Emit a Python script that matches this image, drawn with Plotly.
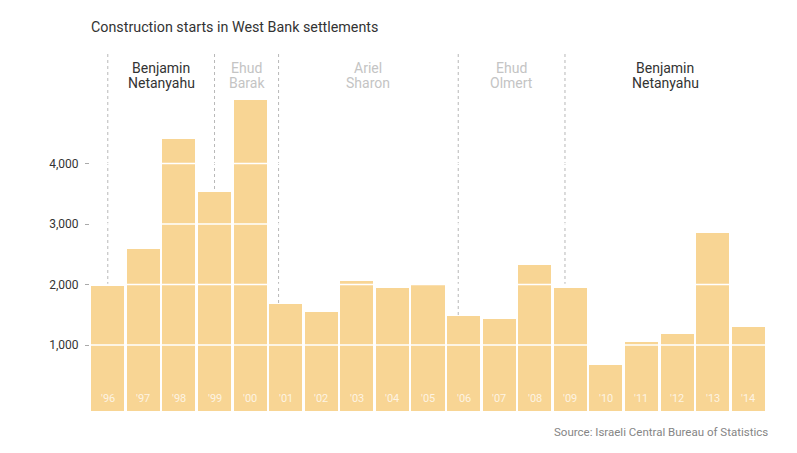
import plotly.graph_objects as go

# ---- data ----
years = list(range(1996, 2015))
year_labels = ["'96", "'97", "'98", "'99", "'00", "'01", "'02", "'03", "'04", "'05",
               "'06", "'07", "'08", "'09", "'10", "'11", "'12", "'13", "'14"]
starts = [1970, 2580, 4410, 3530, 5050, 1670, 1540, 2060, 1940, 2010,
          1480, 1430, 2330, 1950, 670, 1050, 1180, 2850, 1300]

# prime ministers: first name, last name, term start (fractional year), highlighted?
pm_first = ["Benjamin", "Ehud", "Ariel", "Ehud", "Benjamin"]
pm_last = ["Netanyahu", "Barak", "Sharon", "Olmert", "Netanyahu"]
pm_start = [1996.5, 1999.5, 2001.3, 2006.35, 2009.35]
pm_highlight = [True, False, False, False, True]
period_end = 2015

tick_vals = [1000, 2000, 3000, 4000]

# ---- style ----
BAR = "#F8D594"
FONT = "Roboto"
BASE = -91

fig = go.Figure()
fig.add_trace(go.Bar(
    x=[y + 0.5 for y in years],
    y=[v - BASE for v in starts],
    base=BASE,
    width=0.93,
    marker=dict(color=BAR, line=dict(width=0)),
    customdata=starts,
    hovertemplate="%{customdata:,}<extra></extra>",
))

# white gridlines drawn over the bars
for v in tick_vals:
    fig.add_shape(type="line", xref="paper", x0=0, x1=1, yref="y", y0=v, y1=v,
                  line=dict(color="white", width=1.5), layer="above")

# dashed term boundaries + names
ends = pm_start[1:] + [period_end]
for first, last, s, e, hl in zip(pm_first, pm_last, pm_start, ends, pm_highlight):
    fig.add_shape(type="line", xref="x", x0=s, x1=s, yref="paper", y0=0, y1=0.995,
                  line=dict(color="#b8b8b8", width=1, dash="3px,3px"), layer="below")
    col = "#333333" if hl else "#c4c4c4"
    mid = (s + e) / 2
    fig.add_annotation(x=mid, xref="x", y=0.95, yref="paper", text=first,
                       showarrow=False, font=dict(family=FONT, size=14, color=col),
                       yanchor="middle")
    fig.add_annotation(x=mid, xref="x", y=0.908, yref="paper", text=last,
                       showarrow=False, font=dict(family=FONT, size=14, color=col),
                       yanchor="middle")

# year labels inside bars
for yr, lab in zip(years, year_labels):
    fig.add_annotation(x=yr + 0.5, xref="x", y=0, yref="y", text=lab, showarrow=False,
                       yanchor="middle", yshift=7,
                       font=dict(family=FONT, size=11, color="rgba(255,255,255,0.75)"))

fig.add_annotation(text="Construction starts in West Bank settlements", xref="paper", yref="paper",
                   x=0, y=1, xshift=-1, yshift=23, xanchor="left", yanchor="middle", showarrow=False,
                   font=dict(family=FONT, size=14.3, color="#333333"))
fig.add_annotation(text="Source: Israeli Central Bureau of Statistics", xref="paper", yref="paper",
                   x=1, y=0, xshift=4, yshift=-21, xanchor="right", yanchor="middle", showarrow=False,
                   font=dict(family=FONT, size=11.5, color="#858585"))

# page body has an 8px margin, so the figure is 8px smaller and margins shifted
fig.update_layout(
    width=789, height=445,
    margin=dict(l=81.5, r=30.5, t=42, b=42),
    paper_bgcolor="white", plot_bgcolor="white",
    showlegend=False, bargap=0,
    xaxis=dict(range=[1996, 2015], showgrid=False, showticklabels=False, ticks="",
               zeroline=False, showline=False, fixedrange=True),
    yaxis=dict(range=[BASE, 5876], tickvals=tick_vals, tickformat=",", showgrid=False,
               zeroline=False, showline=False, ticks="outside", ticklen=4, tickcolor="#aaaaaa",
               ticklabelstandoff=4,
               tickfont=dict(family=FONT, size=12, color="#333333"), fixedrange=True),
    font=dict(family=FONT),
)

fig.write_html("out.html")
